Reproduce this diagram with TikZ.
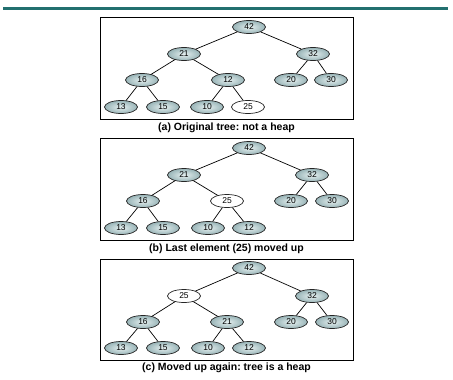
\documentclass[tikz,border=0pt]{standalone}
\usepackage{fontspec}
\setmainfont{Liberation Sans}
\usetikzlibrary{shapes.geometric}
\definecolor{rulecol}{HTML}{22706F}
\definecolor{nodein}{HTML}{E6F0F0}
\definecolor{nodeout}{HTML}{98B4B7}
\tikzset{
  hn/.style={ellipse, draw=black!85, line width=0.7pt, inner color=nodein, outer color=nodeout,
    minimum width=33pt, minimum height=13pt, inner sep=0pt, font=\fontsize{8.5}{9}\selectfont},
  wn/.style={ellipse, draw=black!85, line width=0.7pt, fill=white,
    minimum width=33pt, minimum height=13pt, inner sep=0pt, font=\fontsize{8.5}{9}\selectfont},
  treelink/.style={draw=black, line width=0.7pt},
  boxframe/.style={draw=black, line width=0.8pt},
  captext/.style={font=\fontsize{10.5}{12}\selectfont\bfseries}
}
\frenchspacing
\begin{document}
\begin{tikzpicture}[x=1pt,y=-1pt]
\useasboundingbox (0,0) rectangle (453,380);
\draw[rulecol, line width=2.2pt] (3,8.5) -- (448,8.5);
% ---------- (a)
\draw[boxframe] (100,17) rectangle (353,119);
\node[captext] (capa) at (226.5,127.5) {(a) Original tree: not a heap};
\node[hn] (a1) at (249,27) {42};
\node[hn] (a2) at (184,54) {21};
\node[hn] (a3) at (313,54) {32};
\node[hn] (a4) at (142,80) {16};
\node[hn] (a5) at (228,80) {12};
\node[hn] (a6) at (291,80) {20};
\node[hn] (a7) at (331,80) {30};
\node[hn] (a8) at (121,107) {13};
\node[hn] (a9) at (163,107) {15};
\node[hn] (a10) at (207,107) {10};
\node[wn] (a11) at (248,107) {25};
\draw[treelink] (a1) -- (a2) (a1) -- (a3) (a2) -- (a4) (a2) -- (a5) (a3) -- (a6) (a3) -- (a7)
  (a4) -- (a8) (a4) -- (a9) (a5) -- (a10) (a5) -- (a11);
% ---------- (b)
\draw[boxframe] (100,138) rectangle (353,240);
\node[captext] (capb) at (226.5,248.5) {(b) Last element (25) moved up};
\node[hn] (b1) at (249,148) {42};
\node[hn] (b2) at (184,175) {21};
\node[hn] (b3) at (312,175) {32};
\node[hn] (b4) at (143,201) {16};
\node[wn] (b5) at (227,201) {25};
\node[hn] (b6) at (291,201) {20};
\node[hn] (b7) at (332,201) {30};
\node[hn] (b8) at (121,228) {13};
\node[hn] (b9) at (163,228) {15};
\node[hn] (b10) at (208,228) {10};
\node[hn] (b11) at (249,228) {12};
\draw[treelink] (b1) -- (b2) (b1) -- (b3) (b2) -- (b4) (b2) -- (b5) (b3) -- (b6) (b3) -- (b7)
  (b4) -- (b8) (b4) -- (b9) (b5) -- (b10) (b5) -- (b11);
% ---------- (c)
\draw[boxframe] (100,259) rectangle (353,360);
\node[captext] (capc) at (226.5,367.5) {(c) Moved up again: tree is a heap};
\node[hn] (c1) at (249,268) {42};
\node[wn] (c2) at (184,296) {25};
\node[hn] (c3) at (312,296) {32};
\node[hn] (c4) at (143,322) {16};
\node[hn] (c5) at (227,322) {21};
\node[hn] (c6) at (291,322) {20};
\node[hn] (c7) at (332,322) {30};
\node[hn] (c8) at (121,348) {13};
\node[hn] (c9) at (163,348) {15};
\node[hn] (c10) at (208,348) {10};
\node[hn] (c11) at (249,348) {12};
\draw[treelink] (c1) -- (c2) (c1) -- (c3) (c2) -- (c4) (c2) -- (c5) (c3) -- (c6) (c3) -- (c7)
  (c4) -- (c8) (c4) -- (c9) (c5) -- (c10) (c5) -- (c11);
\end{tikzpicture}
\end{document}
